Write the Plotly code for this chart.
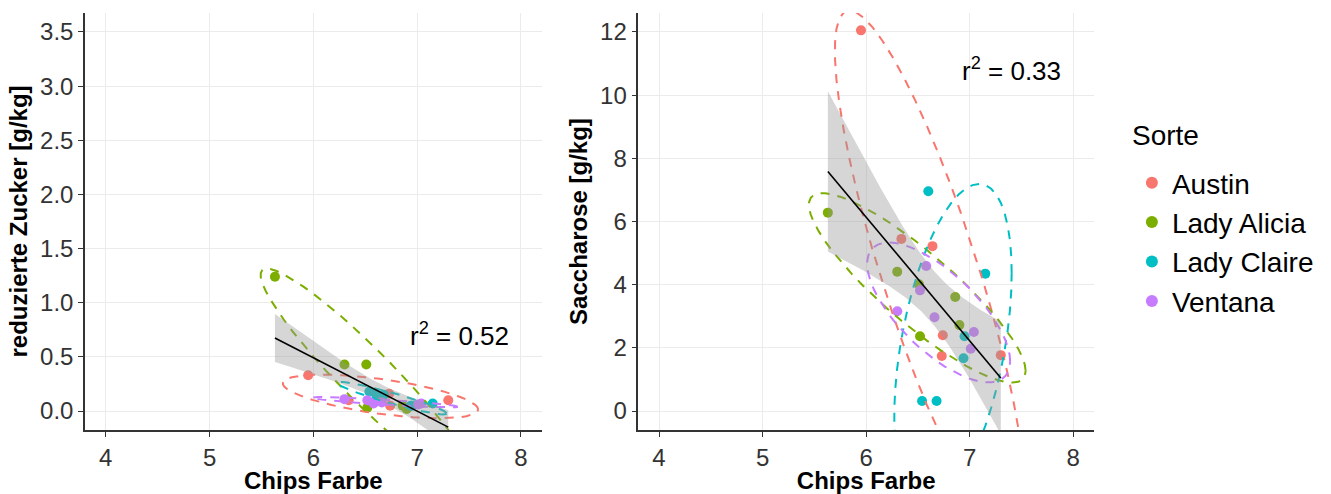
import numpy as np
import plotly.graph_objects as go

# Sorten and their colours
sorten = ["Austin", "Lady Alicia", "Lady Claire", "Ventana"]
farben = ["#F8766D", "#7CAE00", "#00BFC4", "#C77CFF"]

# Chips Farbe per sample, grouped by Sorte
chips_farbe = {
    "Austin":      [5.95, 6.34, 6.64, 6.74, 6.73, 7.30],
    "Lady Alicia": [5.63, 6.30, 6.51, 6.52, 6.86, 6.90],
    "Lady Claire": [6.60, 7.15, 6.95, 6.94, 6.54, 6.68],
    "Ventana":     [6.58, 6.52, 6.30, 6.66, 7.04, 7.01],
}
# reduzierte Zucker [g/kg]
red_zucker = {
    "Austin":      [0.33, 0.10, 0.14, 0.05, 0.16, 0.10],
    "Lady Alicia": [1.24, 0.43, 0.43, 0.03, 0.05, 0.02],
    "Lady Claire": [0.16, 0.07, 0.05, 0.05, 0.18, 0.15],
    "Ventana":     [0.07, 0.10, 0.11, 0.08, 0.07, 0.06],
}
# Saccharose [g/kg]
saccharose = {
    "Austin":      [12.05, 5.45, 5.22, 2.40, 1.74, 1.77],
    "Lady Alicia": [6.28, 4.41, 4.01, 2.37, 3.61, 2.72],
    "Lady Claire": [6.96, 4.35, 2.37, 1.67, 0.32, 0.32],
    "Ventana":     [4.59, 3.82, 3.16, 2.97, 2.50, 1.97],
}
r2_labels = ["0.52", "0.33"]

x_ticks = [4, 5, 6, 7, 8]
y_ticks_left = [0.0, 0.5, 1.0, 1.5, 2.0, 2.5, 3.0, 3.5]
y_ticks_right = [0, 2, 4, 6, 8, 10, 12]

ELLIPSE_LEVEL = 0.90
T975_DF22 = 2.073873  # Student t quantile, 0.975, df = 22


def cov_trob(xy, nu=5, maxit=25, tol=0.01):
    """Robust multivariate t covariance (as MASS::cov.trob)."""
    n, p = xy.shape
    wt = np.ones(n)
    loc = xy.mean(axis=0)
    w = np.sqrt(wt)
    X = xy - loc
    for _ in range(maxit):
        w0 = w
        X = xy - loc
        A = np.sqrt(w / w.sum())[:, None] * X
        _, d, vt = np.linalg.svd(A, full_matrices=False)
        wX = X @ vt.T @ np.diag(1.0 / d)
        Q = (wX ** 2).sum(axis=1)
        w = wt * (nu + p) / (nu + Q)
        loc = (w[:, None] * xy).sum(axis=0) / w.sum()
        if np.all(np.abs(w - w0) < tol):
            break
    sw = np.sqrt(w)[:, None] * X
    return loc, sw.T @ sw / wt.sum()


def ellipse(x, y, level=ELLIPSE_LEVEL, segments=51):
    xy = np.column_stack([x, y])
    n = len(x)
    center, shape = cov_trob(xy)
    dfd = n - 1
    qf = dfd / 2.0 * ((1 - level) ** (-2.0 / dfd) - 1)
    radius = np.sqrt(2 * qf)
    ang = np.arange(segments + 1) * 2 * np.pi / segments
    circle = np.column_stack([np.cos(ang), np.sin(ang)])
    upper = np.linalg.cholesky(shape).T
    pts = center + radius * (circle @ upper)
    return pts[:, 0], pts[:, 1]


def lm_band(x, y, npts=80):
    x = np.asarray(x)
    y = np.asarray(y)
    b, a = np.polyfit(x, y, 1)
    xs = np.linspace(x.min(), x.max(), npts)
    fit = a + b * xs
    resid = y - (a + b * x)
    s = np.sqrt((resid ** 2).sum() / (len(x) - 2))
    sxx = ((x - x.mean()) ** 2).sum()
    se = s * np.sqrt(1 / len(x) + (xs - x.mean()) ** 2 / sxx)
    return xs, fit, fit - T975_DF22 * se, fit + T975_DF22 * se


fig = go.Figure()
panels = [(red_zucker, "x", "y"), (saccharose, "x2", "y2")]

for pi, (yvals, xa, ya) in enumerate(panels):
    # points
    for s, c in zip(sorten, farben):
        fig.add_trace(go.Scatter(
            x=chips_farbe[s], y=yvals[s], mode="markers", name=s,
            showlegend=(pi == 0),
            marker=dict(color=c, size=10, line=dict(width=0)),
            xaxis=xa, yaxis=ya, hoverinfo="skip"))
    # ellipses per Sorte
    for s, c in zip(sorten, farben):
        ex, ey = ellipse(np.array(chips_farbe[s]), np.array(yvals[s]))
        fig.add_trace(go.Scatter(
            x=ex, y=ey, mode="lines", showlegend=False,
            line=dict(color=c, width=2, dash="9px,8px"),
            xaxis=xa, yaxis=ya, hoverinfo="skip"))
    # linear fit with confidence band
    allx = np.concatenate([chips_farbe[s] for s in sorten])
    ally = np.concatenate([yvals[s] for s in sorten])
    xs, fit, lo, hi = lm_band(allx, ally)
    fig.add_trace(go.Scatter(
        x=np.concatenate([xs, xs[::-1]]), y=np.concatenate([hi, lo[::-1]]),
        mode="lines", fill="toself", fillcolor="rgba(153,153,153,0.4)",
        line=dict(width=0), showlegend=False, xaxis=xa, yaxis=ya,
        hoverinfo="skip"))
    fig.add_trace(go.Scatter(
        x=xs, y=fit, mode="lines", line=dict(color="black", width=1.6),
        showlegend=False, xaxis=xa, yaxis=ya, hoverinfo="skip"))

font_family = "Liberation Sans, Arial, sans-serif"
axis_common = dict(
    showgrid=True, gridcolor="#EBEBEB", gridwidth=1.3,
    zeroline=False, showline=True, linecolor="#333333", linewidth=1.5,
    ticks="outside", ticklen=5, tickcolor="#333333", tickwidth=1.3,
    tickfont=dict(family=font_family, size=24, color="#333333"),
    automargin=False,
)
title_font = dict(family=font_family, size=24, color="black", weight="bold")

# plot area in pixels: left 85, right 1097, top 13, bottom 430
fig.update_layout(
    width=1331, height=494,
    margin=dict(l=85, r=234, t=13, b=64),
    plot_bgcolor="white", paper_bgcolor="white",
    font=dict(family=font_family, color="black"),
    xaxis=dict(domain=[0, 0.4526], range=[3.8, 8.2], tickvals=x_ticks,
               title=dict(text="Chips Farbe", font=title_font, standoff=12),
               anchor="y", **axis_common),
    yaxis=dict(domain=[0, 1], range=[-0.175, 3.675], tickvals=y_ticks_left,
               ticktext=[f"{v:.1f}" for v in y_ticks_left],
               title=dict(text="reduzierte Zucker [g/kg]", font=title_font,
                          standoff=6),
               anchor="x", **axis_common),
    xaxis2=dict(domain=[0.5484, 1], range=[3.8, 8.2], tickvals=x_ticks,
                title=dict(text="Chips Farbe", font=title_font, standoff=12),
                anchor="y2", **axis_common),
    yaxis2=dict(domain=[0, 1], range=[-0.6, 12.6], tickvals=y_ticks_right,
                title=dict(text="Saccharose [g/kg]", font=title_font,
                           standoff=6),
                anchor="x2", **axis_common),
    legend=dict(
        font=dict(family=font_family, size=28, color="black"),
        x=(1135 - 85) / 1012, xanchor="left",
        y=(430 - 158) / 417, yanchor="top",
        tracegroupgap=0, itemsizing="constant",
        bgcolor="rgba(0,0,0,0)",
    ),
    showlegend=True,
)

# legend heading
fig.add_annotation(x=(1133 - 85) / 1012, y=(430 - 135) / 417,
                   xref="paper", yref="paper", xanchor="left",
                   yanchor="middle", text="Sorte", showarrow=False,
                   font=dict(family=font_family, size=28, color="black"))

fig.add_annotation(x=7.9, y=0.71, xref="x", yref="y", xanchor="right",
                   text="r<sup>2</sup> = " + r2_labels[0], showarrow=False,
                   font=dict(family=font_family, size=26, color="black"))
fig.add_annotation(x=7.9, y=10.8, xref="x2", yref="y2", xanchor="right",
                   text="r<sup>2</sup> = " + r2_labels[1], showarrow=False,
                   font=dict(family=font_family, size=26, color="black"))

fig.write_html("out.html")
